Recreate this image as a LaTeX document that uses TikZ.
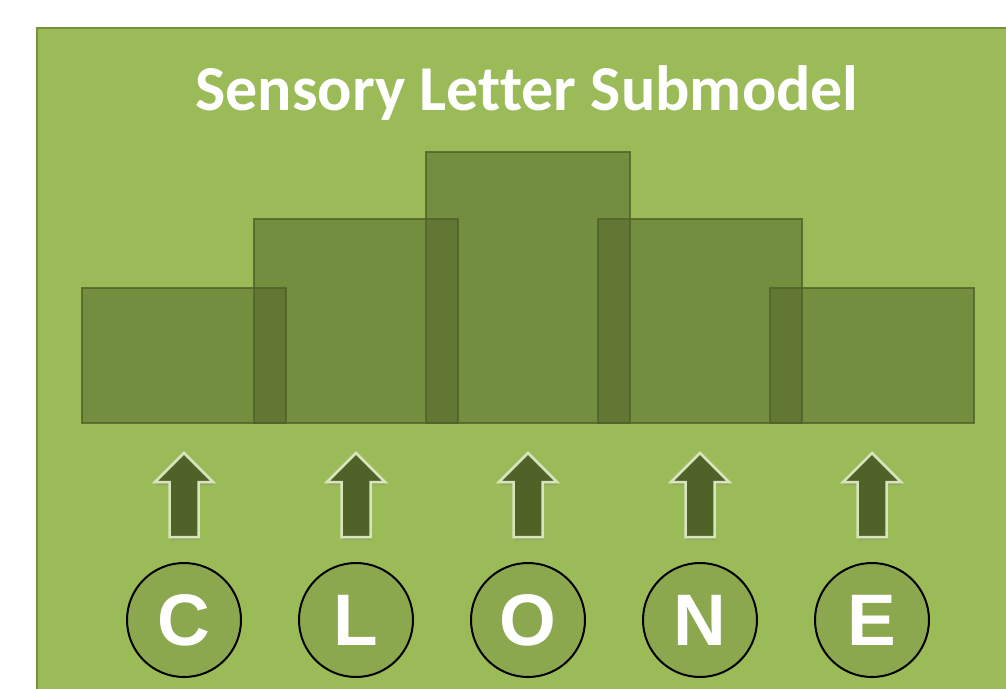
\documentclass[tikz,border=0pt]{standalone}
\usepackage{fontspec}
\setmainfont{Liberation Sans}
\newfontfamily\titlefont[Ligatures=NoCommon]{Carlito}
\usetikzlibrary{shadows}

\definecolor{panelgreen}{RGB}{155,187,89}
\definecolor{panelline}{RGB}{118,146,60}
\definecolor{darkolive}{RGB}{79,98,40}
\definecolor{circlegreen}{RGB}{139,168,79}
\definecolor{arrowrim}{RGB}{215,228,189}

\tikzset{
  levelbox/.style={rectangle,draw=darkolive,draw opacity=.8,fill=darkolive,fill opacity=.5,
    minimum width=204pt,inner sep=0pt,line width=2pt},
  letter/.style={circle,draw=black,fill=circlegreen,minimum size=114pt,inner sep=0pt,
    line width=2pt,text=white,font=\bfseries\fontsize{73}{73}\selectfont},
  uparrow/.style={fill=darkolive,draw=arrowrim,line width=2.5pt,line join=miter,
    drop shadow={opacity=.3,shadow xshift=1pt,shadow yshift=-3pt}}
}

\begin{document}
\begin{tikzpicture}[x=1pt,y=-1pt]
  \useasboundingbox (0,0) rectangle (1006,688);
  \draw[fill=panelgreen,draw=panelline,line width=2pt] (37,28) rectangle (1012,694);
  \node[anchor=base,text=white,font=\titlefont\bfseries\fontsize{64}{66}\selectfont] (title) at (527,110) {Sensory Letter Submodel};
    % bars
    \node[levelbox,minimum height=135pt] (S1) at (184,355.5) {};
    \node[levelbox,minimum height=204pt] (S2) at (356,321) {};
    \node[levelbox,minimum height=271pt] (S3) at (528,287.5) {};
    \node[levelbox,minimum height=204pt] (S4) at (700,321) {};
    \node[levelbox,minimum height=135pt] (S5) at (872,355.5) {};
    % letters
    \node[letter] (C) at (184,620) {C};
    \node[letter] (L) at (356,620) {L};
    \node[letter] (O) at (528,620) {O};
    \node[letter] (N) at (700,620) {N};
    \node[letter] (E) at (872,620) {E};
    % arrows
    \draw[uparrow] (184,453) -- ++(29,29) -- ++(-14.5,0) -- ++(0,55) -- ++(-29,0) -- ++(0,-55) -- ++(-14.5,0) -- cycle;
    \draw[uparrow] (356,453) -- ++(29,29) -- ++(-14.5,0) -- ++(0,55) -- ++(-29,0) -- ++(0,-55) -- ++(-14.5,0) -- cycle;
    \draw[uparrow] (528,453) -- ++(29,29) -- ++(-14.5,0) -- ++(0,55) -- ++(-29,0) -- ++(0,-55) -- ++(-14.5,0) -- cycle;
    \draw[uparrow] (700,453) -- ++(29,29) -- ++(-14.5,0) -- ++(0,55) -- ++(-29,0) -- ++(0,-55) -- ++(-14.5,0) -- cycle;
    \draw[uparrow] (872,453) -- ++(29,29) -- ++(-14.5,0) -- ++(0,55) -- ++(-29,0) -- ++(0,-55) -- ++(-14.5,0) -- cycle;
\end{tikzpicture}
\end{document}
